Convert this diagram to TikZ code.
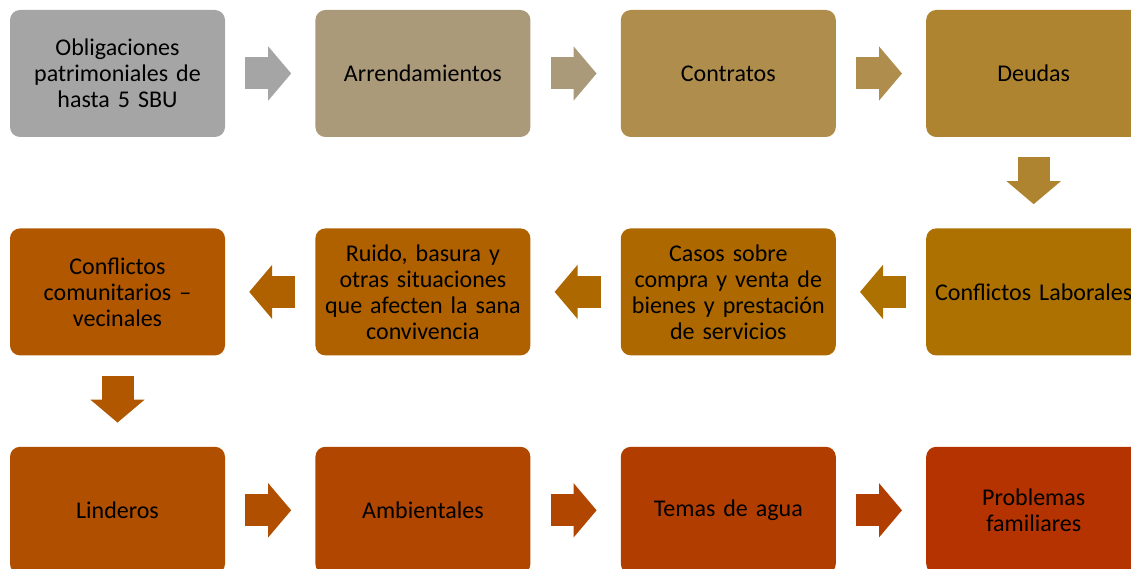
\documentclass[tikz,border=0pt]{standalone}
\usepackage{fontspec}
\setmainfont{Carlito}[WordSpace=0.7]
\usetikzlibrary{arrows.meta,positioning}
\definecolor{stepA}{HTML}{A5A5A5}
\definecolor{stepB}{HTML}{AA9A7A}
\definecolor{stepC}{HTML}{AF8E4D}
\definecolor{stepD}{HTML}{AE8430}
\definecolor{stepE}{HTML}{AC7100}
\definecolor{stepF}{HTML}{AD6900}
\definecolor{stepG}{HTML}{AF6100}
\definecolor{stepH}{HTML}{B05700}
\definecolor{stepI}{HTML}{B04F00}
\definecolor{stepJ}{HTML}{B14600}
\definecolor{stepK}{HTML}{B23D00}
\definecolor{stepL}{HTML}{B53300}
\tikzset{%
    >={Triangle[width=53pt,length=23pt]},
    base/.style = {
        rectangle, rounded corners=10pt, minimum width=215pt,
        minimum height=127pt, text width=212pt, inner sep=0pt,
        align=center, font=\fontsize{24}{26}\selectfont
    },
    stepBox/.style = {base, fill=#1},
    flow/.style = {draw=#1, line width=32pt, ->, shorten <=20pt, shorten >=24pt},
}

\begin{document}
\begin{tikzpicture}[node distance=91pt and 90pt]
    \useasboundingbox (0,0) rectangle (1131pt,-569pt);
        % Nodes position
        \node (oblig)        [stepBox=stepA] at (117.5pt,-73.5pt)
                                {Obligaciones\\patrimoniales de\\hasta 5 SBU};
        \node (arrend)       [stepBox=stepB, right=of oblig]
                                {Arrendamientos};
        \node (contratos)    [stepBox=stepC, right=of arrend]
                                {Contratos};
        \node (deudas)       [stepBox=stepD, right=of contratos]
                                {Deudas};

        \node (laborales)    [stepBox=stepE, below=of deudas]
                                {\makebox[212pt]{Conflictos Laborales}};
        \node (compraVenta)  [stepBox=stepF, left=of laborales]
                                {Casos sobre\\compra y venta de\\bienes y prestación\\de servicios};
        \node (ruido)        [stepBox=stepG, left=of compraVenta]
                                {Ruido, basura y\\otras situaciones\\que afecten la sana\\convivencia};
        \node (comunitarios) [stepBox=stepH, left=of ruido]
                                {Conflictos\\comunitarios –\\vecinales};

        \node (linderos)     [stepBox=stepI, below=of comunitarios]
                                {Linderos};
        \node (ambientales)  [stepBox=stepJ, right=of linderos]
                                {Ambientales};
        \node (agua)         [stepBox=stepK, right=of ambientales]
                                {Temas de agua};
        \node (familiares)   [stepBox=stepL, right=of agua]
                                {Problemas\\familiares};

        % Arrow specification
        \draw[flow=stepA]        (oblig) -- (arrend);
        \draw[flow=stepB]       (arrend) -- (contratos);
        \draw[flow=stepC]    (contratos) -- (deudas);
        \draw[flow=stepD]       (deudas) -- (laborales);
        \draw[flow=stepE]    (laborales) -- (compraVenta);
        \draw[flow=stepF]  (compraVenta) -- (ruido);
        \draw[flow=stepG]        (ruido) -- (comunitarios);
        \draw[flow=stepH] (comunitarios) -- (linderos);
        \draw[flow=stepI]     (linderos) -- (ambientales);
        \draw[flow=stepJ]  (ambientales) -- (agua);
        \draw[flow=stepK]         (agua) -- (familiares);
\end{tikzpicture}
\end{document}
